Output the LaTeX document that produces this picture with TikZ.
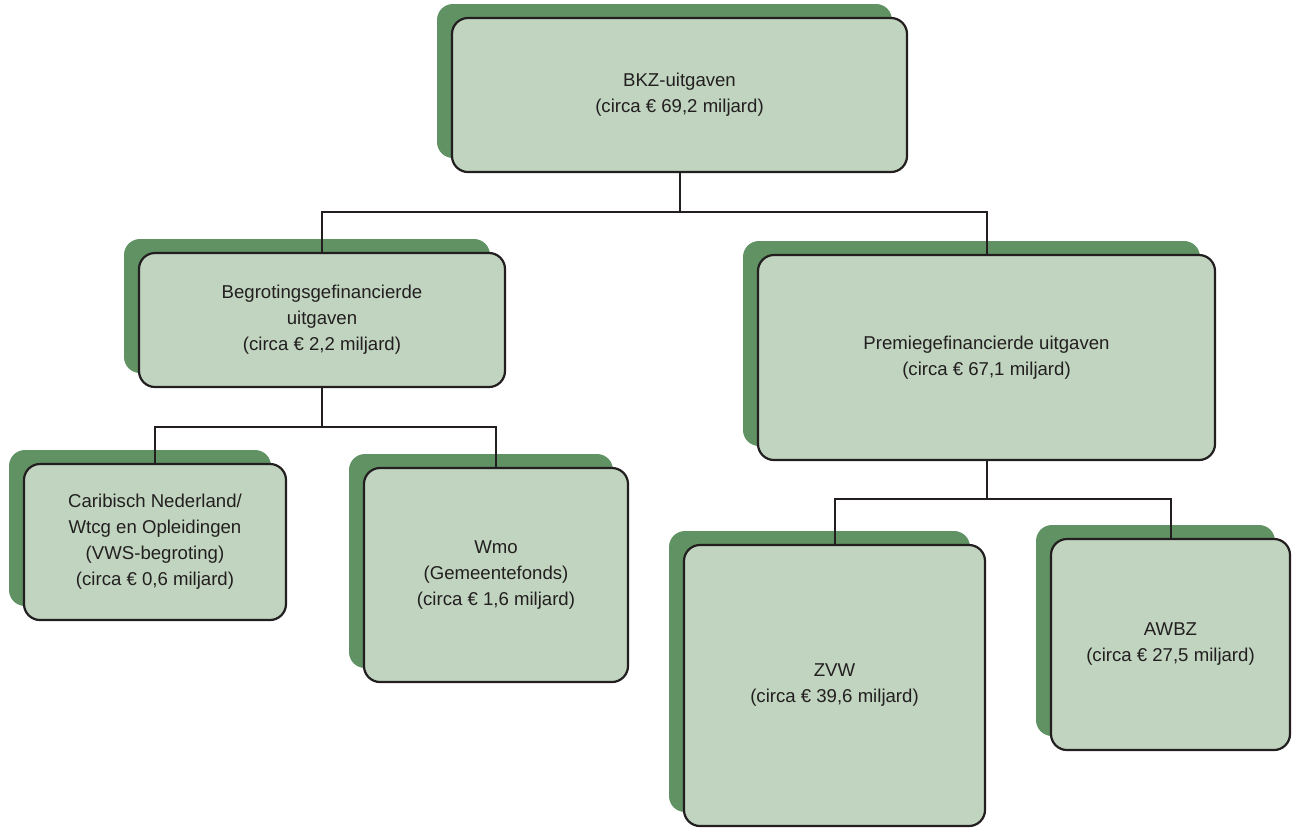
\documentclass[tikz,border=0pt]{standalone}
\usepackage{fontspec}
\setmainfont{Liberation Sans}
\usetikzlibrary{shadows}
\definecolor{boxfill}{RGB}{192,212,191}
\definecolor{boxshade}{RGB}{96,146,99}
\definecolor{ink}{RGB}{35,31,32}
\begin{document}
\begin{tikzpicture}[x=0.5pt,y=-0.5pt]
\tikzstyle{every node}+=[inner sep=0pt, text=ink, font=\fontsize{9.3}{13}\selectfont]
\tikzstyle{post}=[draw=ink, fill=boxfill, line width=1.1pt, rounded corners=8pt, align=center,
  drop shadow={shadow xshift=-7.5pt, shadow yshift=7pt, fill=boxshade, opacity=1}]
\tikzstyle{wire}=[draw=ink, line width=1pt]
\useasboundingbox (0,0) rectangle (1292,827);
\node [post, minimum width=227.5pt, minimum height=77pt] (bkz) at (679.5,95) {BKZ-uitgaven\\(circa € 69,2 miljard)};
\node [post, minimum width=183pt, minimum height=67pt] (begr) at (322,320) {Begrotingsgefinancierde\\uitgaven\\(circa € 2,2 miljard)};
\node [post, minimum width=228.5pt, minimum height=102.5pt] (prem) at (986.5,357.5) {Premiegefinancierde uitgaven\\(circa € 67,1 miljard)};
\node [post, minimum width=131pt, minimum height=78pt] (carib) at (155,542) {Caribisch Nederland/\\Wtcg en Opleidingen\\(VWS-begroting)\\(circa € 0,6 miljard)};
\node [post, minimum width=132pt, minimum height=107pt] (wmo) at (496,575) {Wmo\\(Gemeentefonds)\\(circa € 1,6 miljard)};
\node [post, minimum width=150.5pt, minimum height=140.5pt] (zvw) at (834.5,685.5) {ZVW\\(circa € 39,6 miljard)};
\node [post, minimum width=119.5pt, minimum height=105.5pt] (awbz) at (1170.5,644.5) {AWBZ\\(circa € 27,5 miljard)};
\coordinate (bar1) at (679.5,212);
\coordinate (bar2) at (322,427);
\coordinate (bar3) at (986.5,499);
\draw [wire] (bkz.south) -- (bar1);
\draw [wire] (begr.north) |- (bar1) -| (prem.north);
\draw [wire] (begr.south) -- (bar2);
\draw [wire] (carib.north) |- (bar2) -| (wmo.north);
\draw [wire] (prem.south) -- (bar3);
\draw [wire] (zvw.north) |- (bar3) -| (awbz.north);
\end{tikzpicture}
\end{document}
